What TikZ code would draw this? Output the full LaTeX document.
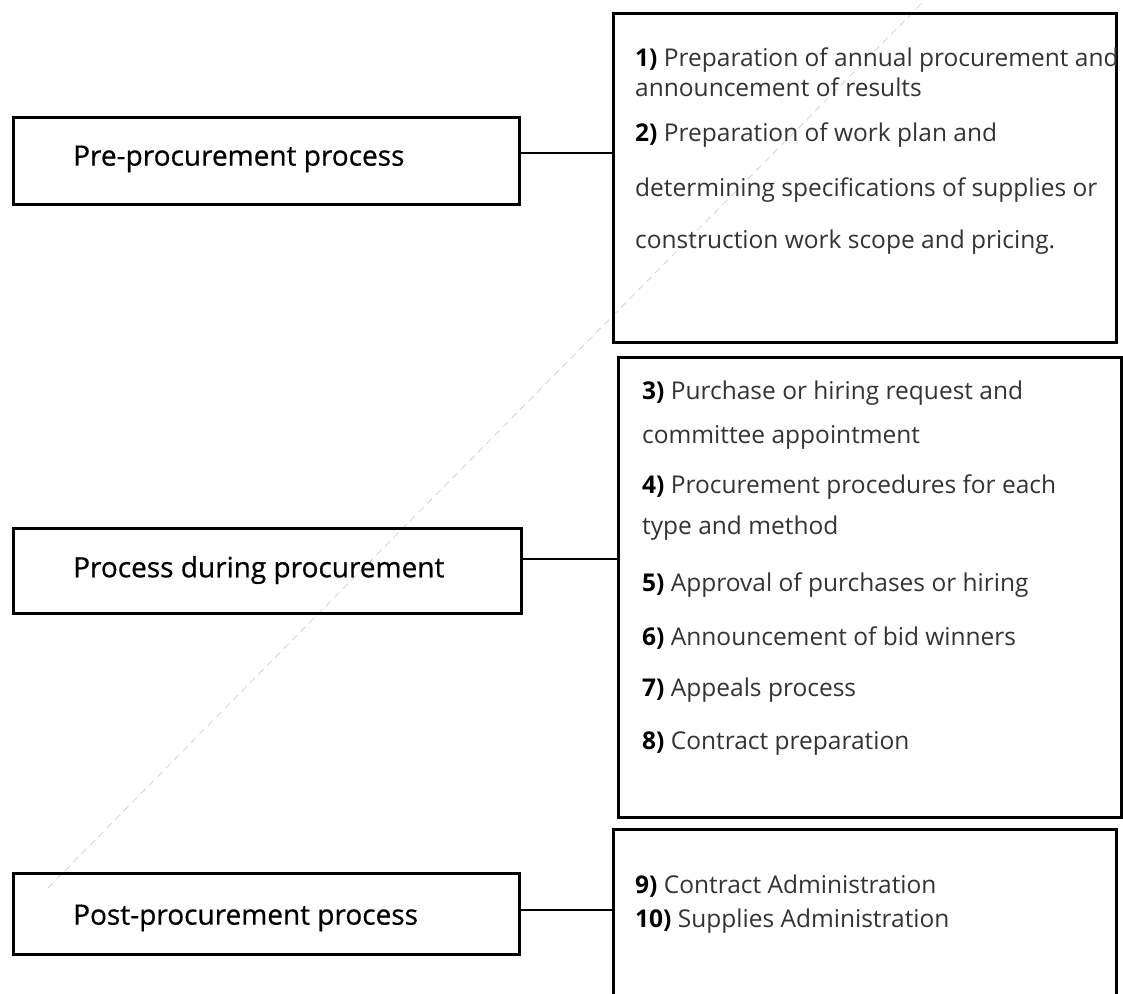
\documentclass[tikz,border=0pt]{standalone}
\usepackage{fontspec}
\setmainfont{Open Sans}
\newfontface\lblfont{Open Sans}[FakeBold=0.6]
\begin{document}
\begin{tikzpicture}[x=1pt,y=-1pt,
  box/.style={draw=black,line width=3pt,rectangle,anchor=north west,inner sep=0pt,outer sep=0pt},
  conn/.style={draw=black,line width=2pt},
  lbl/.style={anchor=west,inner sep=0pt,text=black,font=\lblfont\fontsize{28}{32}\selectfont},
  itm/.style={anchor=west,inner sep=0pt,text=black!80,font=\fontsize{24.5}{28}\selectfont},
  faint/.style={draw=gray!35,line width=0.8pt,dash pattern=on 7pt off 5pt}]
\useasboundingbox (0,0) rectangle (1123,993);
% faint scan artefact
\coordinate (f1) at (48,888);
\coordinate (f2) at (236,697);
\coordinate (f3) at (925,0);
\draw[faint] (f1) -- (f2) -- (f3);
% left boxes
\node[box,minimum width=506pt,minimum height=87pt] (a) at (13,117) {};
\node[box,minimum width=508pt,minimum height=85pt] (b) at (13,528) {};
\node[box,minimum width=506pt,minimum height=81pt] (c) at (13,873) {};
\node[lbl] (ta) at (73,159) {Pre-procurement process};
\node[lbl] (tb) at (73,570) {Process during procurement};
\node[lbl] (tc) at (73,918) {Post-procurement process};
% right boxes
\node[box,minimum width=503pt,minimum height=329pt] (r1) at (613,13) {};
\node[box,minimum width=503pt,minimum height=460pt] (r2) at (618,357) {};
\node[box,minimum width=503pt,minimum height=200pt] (r3) at (613,829) {};
% connectors
\draw[conn] (a.east |- 0,153) -- (r1.west |- 0,153);
\draw[conn] (b.east |- 0,559) -- (r2.west |- 0,559);
\draw[conn] (c.east |- 0,910) -- (r3.west |- 0,910);
% items box 1
\node[itm] (i1a) at (635,60) {\textbf{\color{black}1)} Preparation of annual procurement and};
\node[itm] (i1b) at (635,87) {announcement of results};
\node[itm] (i2a) at (635,135) {\textbf{\color{black}2)} Preparation of work plan and};
\node[itm] (i2b) at (635,190) {determining specifications of supplies or};
\node[itm] (i2c) at (635,242) {construction work scope and pricing.};
% items box 2
\node[itm] (i3a) at (642,393) {\textbf{\color{black}3)} Purchase or hiring request and};
\node[itm] (i3b) at (642,437) {committee appointment};
\node[itm] (i4a) at (642,487) {\textbf{\color{black}4)} Procurement procedures for each};
\node[itm] (i4b) at (642,528) {type and method};
\node[itm] (i5) at (642,585) {\textbf{\color{black}5)} Approval of purchases or hiring};
\node[itm] (i6) at (642,638) {\textbf{\color{black}6)} Announcement of bid winners};
\node[itm] (i7) at (642,690) {\textbf{\color{black}7)} Appeals process};
\node[itm] (i8) at (642,743) {\textbf{\color{black}8)} Contract preparation};
% items box 3
\node[itm] (i9) at (635,886) {\textbf{\color{black}9)} Contract Administration};
\node[itm] (i10) at (635,921) {\textbf{\color{black}10)} Supplies Administration};
\end{tikzpicture}
\end{document}
